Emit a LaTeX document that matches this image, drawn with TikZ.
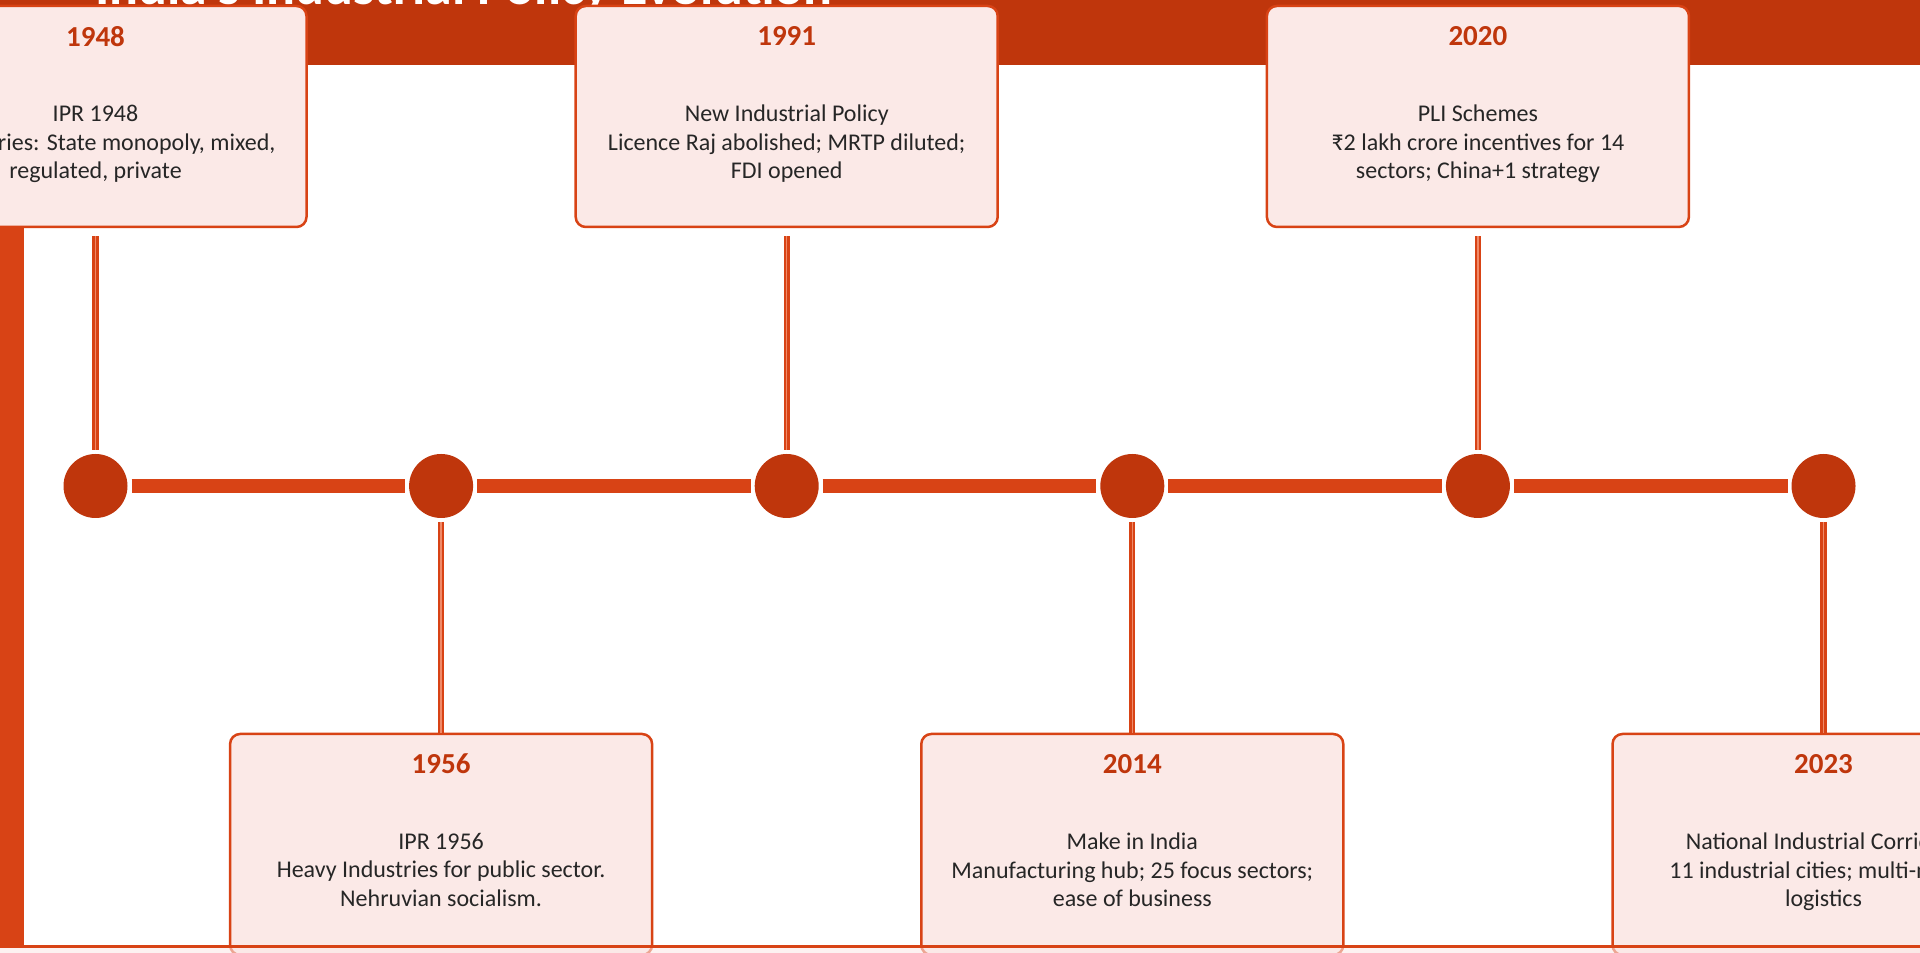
\documentclass[tikz,border=0pt]{standalone}
\usepackage{fontspec}
\setmainfont{Carlito}
\usetikzlibrary{positioning}

\definecolor{rust}{HTML}{BF360C}
\definecolor{flame}{HTML}{D84315}
\definecolor{blush}{HTML}{FBE9E7}
\definecolor{ember}{HTML}{F08A68}
\definecolor{ink}{HTML}{262626}

\begin{document}
\begin{tikzpicture}[x=0.5pt,y=0.5pt,
    dot/.style={circle,fill=rust,minimum size=32pt,inner sep=0pt,outer sep=2pt},
    spine/.style={flame,line width=7pt},
    stem/.style={draw=flame,double=ember,double distance=0.7pt,line width=1.2pt},
    event/.style={draw=flame,fill=blush,line width=1.25pt,rounded corners=5pt,minimum width=211pt,minimum height=110.5pt},
    yearlbl/.style={text=rust,font=\bfseries\fontsize{14.5}{17}\selectfont,inner sep=0pt},
    desc/.style={text=ink,font=\fontsize{12}{14.25}\selectfont,align=center,inner sep=0pt}]
    \useasboundingbox (0,0) rectangle (1920,952);
    \fill[rust] (0,887) rectangle (1920,960); % header band
    \fill[flame] (0,6) rectangle (24,887); % side rail
    \node[anchor=base west,text=white,font=\bfseries\fontsize{27}{30}\selectfont] (title) at (88,947) {India's Industrial Policy Evolution};
    \foreach \i in {0,...,5}
        \node[dot] (c\i) at ({95.5+345.6*\i},466) {};
    \foreach \i [remember=\i as \j (initially 0)] in {1,...,5}
        \draw[spine] (c\j) -- (c\i);
    \foreach \yr/\i/\cy/\body in {
        1948/0/835.5/{IPR 1948\\4 categories: State monopoly, mixed,\\regulated, private},
        1956/1/107.5/{IPR 1956\\Heavy Industries for public sector.\\Nehruvian socialism.},
        1991/2/835.5/{New Industrial Policy\\Licence Raj abolished; MRTP diluted;\\FDI opened},
        2014/3/107.5/{Make in India\\Manufacturing hub; 25 focus sectors;\\ease of business},
        2020/4/835.5/{PLI Schemes\\₹2 lakh crore incentives for 14\\sectors; China+1 strategy},
        2023/5/107.5/{National Industrial Corridors\\11 industrial cities; multi-modal\\logistics}} {
        \node[event] (e\yr) at ({95.5+345.6*\i},\cy) {};
        \node[yearlbl,below=10.5pt of e\yr.north] (e\yr-year) {\yr};
        \node[desc,below=50pt of e\yr.north] (e\yr-text) {\body};
        \ifdim\cy pt>466pt
            \draw[stem,shorten <=4pt] (e\yr) -- (c\i); % card above
        \else
            \draw[stem] (c\i) -- (e\yr); % card below
        \fi
    }
    \fill[blush,fill opacity=0.6] (0,-10) rectangle (1920,5.5);
    \draw[flame,line width=1.25pt] (0,5.5) -- (1920,5.5);
\end{tikzpicture}
\end{document}
